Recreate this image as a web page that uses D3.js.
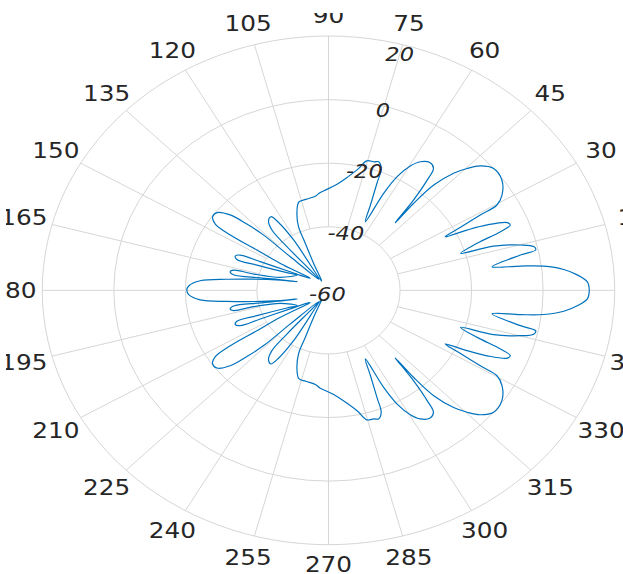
<!DOCTYPE html>
<html><head><meta charset="utf-8">
<script src="https://cdn.jsdelivr.net/npm/d3@7"></script>
<style>html,body{margin:0;padding:0;background:#fff;} svg{display:block;}</style>
</head><body>
<script>
// ---- data ----
const angleTicks = [0,15,30,45,60,75,90,105,120,135,150,165,180,195,210,225,240,255,270,285,300,315,330,345];
const ringValues = [-40,-20,0,20];
const radialTickValues = [-60,-40,-20,0,20];

// upper half of the pattern (degrees, dB), in drawing order
const upperAngles = [0,2.1,4.0,5.7,7.2,8.1,9.2,11.7,12.4,13.5,14.9,16.8,17.5,19.6,21.0,22.0,23.1,24.9,26.1,27.3,28.3,29.2,29.7,31.7,35.6,39.7,42.7,44.7,46.5,48.4,49.0,48.7,50.1,51.5,52.6,54.7,57.6,59.7,61.8,63.2,64.5,66.4,68.1,69.0,70.9,72.5,75.3,77.8,81.4,86.5,91.4,94.5,96.8,102.5,106.6,110.0,112.7,113.7,116.1,124.0,121.6,123.2,124.8,127.4,129.8,130.2,128.0,135.3,136.2,137.6,139.2,141.9,144.5,146.6,147.6,147.6,147.8,143.5,152.0,154.7,155.8,157.5,159.2,158.3,154.5,151.3,163.1,166.2,166.5,168.0,169.5,168.3,165.5,162.9,166.5,173.0,175.2,178.0,180.0];
const upperGains = [12.9,12.4,9.7,6.1,0.6,-5.8,-13.7,-5.2,-0.7,-1.0,-4.5,-11.8,-21.3,-15.9,-8.5,-5.2,-5.7,-11.1,-16.9,-23.3,-18.1,-11.4,-5.8,-3.0,-0.4,0.0,-2.3,-5.5,-9.2,-15.7,-23.7,-31.7,-22.9,-15.7,-11.7,-10.8,-12.1,-14.7,-19.4,-25.8,-36.1,-30.7,-23.7,-18.9,-17.2,-17.6,-17.9,-21.0,-23.9,-26.8,-28.4,-29.2,-30.1,-30.7,-31.0,-34.2,-38.3,-43.9,-50.5,-56.5,-41.4,-34.5,-31.8,-32.4,-35.3,-42.0,-55.5,-45.0,-34.9,-29.1,-23.7,-20.4,-20.2,-22.1,-27.5,-36.3,-44.1,-53.6,-46.9,-38.9,-32.9,-31.8,-32.6,-38.5,-47.1,-50.0,-45.9,-38.5,-32.7,-31.9,-33.0,-40.5,-47.0,-50.8,-46.2,-31.4,-24.0,-20.9,-20.4];

// lower half of the pattern (degrees, dB), in drawing order
const lowerAngles = [182.0,184.8,187.0,193.5,197.1,194.5,191.7,190.5,192.0,193.5,193.8,196.9,208.7,205.5,201.7,200.8,202.5,204.2,205.3,208.0,216.5,212.2,212.4,212.4,213.4,215.5,218.1,220.8,222.4,223.8,224.7,232.0,229.8,230.2,232.6,235.2,236.8,238.4,236.0,243.9,246.3,247.3,250.0,253.4,257.5,263.2,265.5,268.6,273.5,278.6,282.2,284.7,287.5,289.1,291.0,291.9,293.6,295.5,296.8,298.2,300.3,302.4,305.3,307.4,308.5,309.9,311.3,311.0,311.6,313.5,315.3,317.3,320.3,324.4,328.3,330.3,330.8,331.7,332.7,333.9,335.1,336.9,338.0,339.0,340.4,342.5,343.2,345.1,346.5,347.6,348.3,350.8,351.9,352.8,354.3,356.0,357.9,360.0];
const lowerGains = [-20.9,-24.0,-31.4,-46.2,-50.8,-47.0,-40.5,-33.0,-31.9,-32.7,-38.5,-45.9,-50.0,-47.1,-38.5,-32.6,-31.8,-32.9,-38.9,-46.9,-53.6,-44.1,-36.3,-27.5,-22.1,-20.2,-20.4,-23.7,-29.1,-34.9,-45.0,-55.5,-42.0,-35.3,-32.4,-31.8,-34.5,-41.4,-56.5,-50.5,-43.9,-38.3,-34.2,-31.0,-30.7,-30.1,-29.2,-28.4,-26.8,-23.9,-21.0,-17.9,-17.6,-17.2,-18.9,-23.7,-30.7,-36.1,-25.8,-19.4,-14.7,-12.1,-10.8,-11.7,-15.7,-22.9,-31.7,-23.7,-15.7,-9.2,-5.5,-2.3,0.0,-0.4,-3.0,-5.8,-11.4,-18.1,-23.3,-16.9,-11.1,-5.7,-5.2,-8.5,-15.9,-21.3,-11.8,-4.5,-1.0,-0.7,-5.2,-13.7,-5.8,0.6,6.1,9.7,12.4,12.9];

// ---- layout ----
const W = 623, H = 574;
const cx = 328.5, cy = 290.35, R = 254.35, sx = 1.1253;
const gridColor = '#d6d6d6', textColor = '#262626', lineColor = '#0072BD';
const font = '"DejaVu Sans", sans-serif';

const svg = d3.select('body').append('svg').attr('width', W).attr('height', H);
const g = svg.append('g').attr('transform', `translate(${cx},${cy}) scale(${sx},1)`);
const r = d3.scaleLinear().domain([-60, 20]).range([0, R]).clamp(true);
const rad = d => d * Math.PI / 180;

// rings
g.selectAll('circle.ring').data(ringValues).join('circle')
  .attr('class', 'ring').attr('r', d => r(d))
  .attr('fill', 'none').attr('stroke', gridColor).attr('stroke-width', 1)
  .attr('vector-effect', 'non-scaling-stroke');

// spokes
g.selectAll('line.spoke').data(angleTicks).join('line')
  .attr('class', 'spoke')
  .attr('x1', d => r(-40) * Math.cos(rad(d))).attr('y1', d => -r(-40) * Math.sin(rad(d)))
  .attr('x2', d => R * Math.cos(rad(d))).attr('y2', d => -R * Math.sin(rad(d)))
  .attr('stroke', gridColor).attr('stroke-width', 1)
  .attr('vector-effect', 'non-scaling-stroke');

// pattern curve
const pts = upperAngles.map((a, i) => [a, upperGains[i]])
  .concat(lowerAngles.map((a, i) => [a, lowerGains[i]]));
const radial = d3.lineRadial()
  .angle(d => rad(90 - d[0])).radius(d => r(d[1]))
  .curve(d3.curveCatmullRom.alpha(0.5));
g.append('path').attr('d', radial(pts))
  .attr('fill', 'none').attr('stroke', lineColor).attr('stroke-width', 1.2)
  .attr('stroke-linejoin', 'round')
  .attr('vector-effect', 'non-scaling-stroke');

// angle labels
g.selectAll('text.ang').data(angleTicks).join('text')
  .attr('class', 'ang')
  .attr('x', d => (274.5 + 6 * Math.abs(Math.cos(rad(d)))) * Math.cos(rad(d)))
  .attr('y', d => -(274.5 + 6 * Math.abs(Math.cos(rad(d)))) * Math.sin(rad(d)))
  .attr('text-anchor', 'middle').attr('dominant-baseline', 'central')
  .attr('font-family', font).attr('font-size', 22).attr('fill', textColor)
  .text(d => d);

// radial tick labels along 75 degrees
const tickAngle = 75;
g.selectAll('text.rad').data(radialTickValues).join('text')
  .attr('class', 'rad')
  .attr('x', d => Math.min(r(d) - 4, R - 10) * Math.cos(rad(tickAngle)))
  .attr('y', d => -Math.min(r(d) - 4, R - 10) * Math.sin(rad(tickAngle)))
  .attr('text-anchor', 'middle').attr('dominant-baseline', 'central')
  .attr('font-family', font).attr('font-style', 'italic').attr('font-size', 20)
  .attr('fill', textColor)
  .text(d => d);

// figure edge clip (top and left), as in the reference
svg.append('rect').attr('x', 0).attr('y', 0).attr('width', W).attr('height', 13).attr('fill', '#fff');
svg.append('rect').attr('x', 0).attr('y', 0).attr('width', 6).attr('height', H).attr('fill', '#fff');
</script>
</body></html>
